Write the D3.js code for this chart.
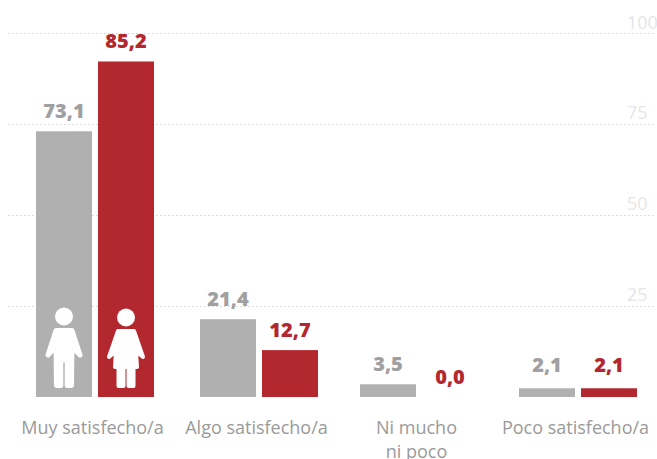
<!DOCTYPE html>
<html><head><meta charset="utf-8">
<script src="https://cdn.jsdelivr.net/npm/d3@7"></script>
<style>html,body{margin:0;padding:0;background:#fff;overflow:hidden}svg{display:block}
text{font-family:"Open Sans",sans-serif}</style></head>
<body><div id="c"></div>
<script>
const categories = ["Muy satisfecho/a","Algo satisfecho/a","Ni mucho\nni poco","Poco satisfecho/a"];
const hombresValues = [73.1,21.4,3.5,2.4];   // bar heights as drawn in the reference
const mujeresValues = [92.3,12.9,0,2.4];     // bar heights as drawn in the reference
const hombresLabels = ["73,1","21,4","3,5","2,1"];
const mujeresLabels = ["85,2","12,7","0,0","2,1"];
const yTicks = [25,50,75,100];

const W=657,H=459,GREY="#b0b0b0",RED="#b2282e";
const svg=d3.select("#c").append("svg").attr("width",W).attr("height",H);
const y=d3.scaleLinear().domain([0,100]).range([397,33.5]);
const x0=d3.scaleOrdinal().domain(categories).range([36,200,360,519]);
const bw=56,gap=6;

const grid=svg.append("g");
grid.selectAll("line").data(yTicks).join("line")
 .attr("x1",8).attr("x2",W-2).attr("y1",d=>Math.floor(y(d))+0.5).attr("y2",d=>Math.floor(y(d))+0.5)
 .attr("stroke","#d4d4d4").attr("stroke-width",1.2).attr("stroke-dasharray","1.5 2.5");
grid.selectAll("text").data(yTicks).join("text")
 .attr("x",627).attr("y",d=>y(d)-5).attr("text-anchor","start")
 .attr("font-size",18).attr("fill","#e6e6e6").text(d=>d);

const series=[
 {vals:hombresValues,labs:hombresLabels,col:GREY,txt:"#a0a0a0",off:0},
 {vals:mujeresValues,labs:mujeresLabels,col:RED,txt:RED,off:bw+gap}];
series.forEach(s=>{
 const g=svg.append("g");
 g.selectAll("rect").data(categories).join("rect")
  .attr("x",c=>x0(c)+s.off).attr("width",bw)
  .attr("y",(c,i)=>y(s.vals[i])).attr("height",(c,i)=>y(0)-y(s.vals[i]))
  .attr("fill",s.col);
 g.selectAll("text").data(categories).join("text")
  .attr("x",c=>x0(c)+s.off+bw/2)
  .attr("y",(c,i)=>y(s.vals[i])-(s.vals[i]>0&&s.vals[i]<3?16:13.5))
  .attr("text-anchor","middle").attr("font-size",20).attr("font-weight",800)
  .attr("fill",s.txt).text((c,i)=>s.labs[i]);
});

const lab=svg.append("g");
categories.forEach(c=>{
 c.split("\n").forEach((t,i)=>{
  lab.append("text").attr("x",x0(c)+bw+gap/2-2.5).attr("y",434+i*24)
   .attr("text-anchor","middle").attr("font-size",18).attr("fill","#9a9a9a").text(t);
 });
});

// pictograms inside the first pair of bars
const base=x0(categories[0]);
const round=sel=>sel.attr("stroke","#fff").attr("stroke-linejoin","round").attr("stroke-linecap","round");
const man=svg.append("g").attr("transform",`translate(${base+bw/2},0)`).attr("fill","#fff");
man.append("circle").attr("cx",0).attr("cy",316.5).attr("r",9);
man.append("path").call(round).attr("stroke-width",5)
 .attr("d","M-8,330.5 L8,330.5 L16,355 L8,346 L7.5,385.5 L3.2,385.5 L3.2,360 L-3.2,360 L-3.2,385.5 L-7.5,385.5 L-8,346 L-16,355 Z");
const wom=svg.append("g").attr("transform",`translate(${base+bw+gap+bw/2},0)`).attr("fill","#fff");
wom.append("circle").attr("cx",0).attr("cy",317.5).attr("r",9);
wom.append("path").call(round).attr("stroke-width",4)
 .attr("d","M-8,331 L8,331 L17,357 L10,351 L11,367 L-11,367 L-10,351 L-17,357 Z");
wom.append("path").call(round).attr("stroke-width",4)
 .attr("d","M-7.5,367 L-2.5,367 L-2.5,386 L-7.5,386 Z M2.5,367 L7.5,367 L7.5,386 L2.5,386 Z");
</script></body></html>
